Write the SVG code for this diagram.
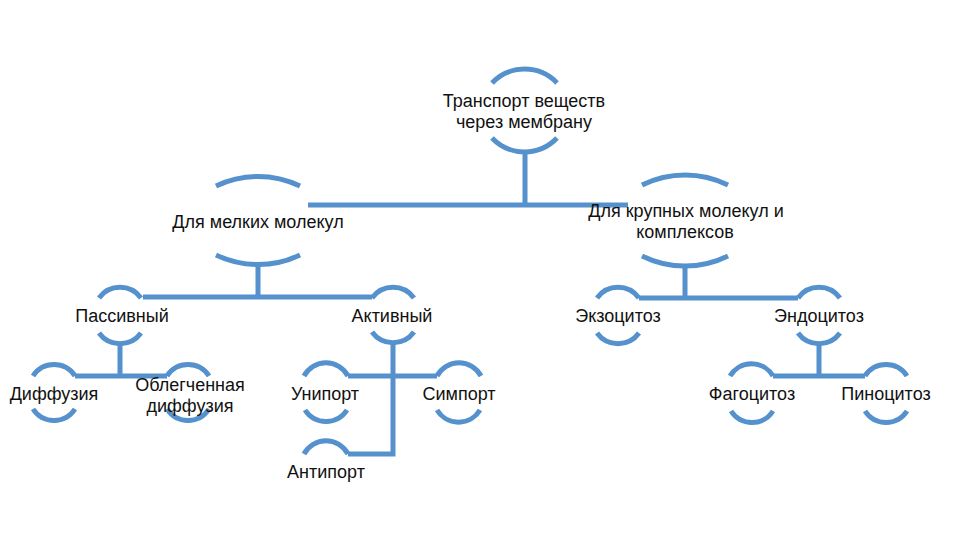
<svg xmlns="http://www.w3.org/2000/svg" width="960" height="540" viewBox="0 0 960 540">
<style>
.arc{fill:none;stroke:#5591cc;stroke-width:5;stroke-linecap:butt}
.con{fill:none;stroke:#5591cc;stroke-width:5;stroke-linejoin:miter}
text{font-family:"Liberation Sans",Arial,sans-serif;font-size:18px;fill:#111;text-anchor:middle}
</style>
<rect width="960" height="540" fill="#fff"/>
<g id="connectors">
<path class="con" d="M525,153 V205 M308,205 H628"/>
<path class="con" d="M258,265 V297 M143,297 H372"/>
<path class="con" d="M120,343 V376 M75,376 H167"/>
<path class="con" d="M393,342 V454 H348 M348,376 H437"/>
<path class="con" d="M685,266 V298 M639,298 H798"/>
<path class="con" d="M819,343 V376 M773,376 H865"/>
</g>
<g id="n-root">
<path class="arc" d="M492,83 A45,45 0 0,1 557,83"/>
<path class="arc" d="M492,138 A45,45 0 0,0 557,138"/>
<text x="524" y="107">Транспорт веществ</text>
<text x="524" y="128">через мембрану</text>
</g>
<g id="n-small">
<path class="arc" d="M216,186 A97,97 0 0,1 300,186"/>
<path class="arc" d="M216,255 A97,97 0 0,0 300,255"/>
<text x="258" y="228">Для мелких молекул</text>
</g>
<g id="n-large">
<path class="arc" d="M642,185 A97,97 0 0,1 728,185"/>
<path class="arc" d="M642,256 A97,97 0 0,0 728,256"/>
<text x="686" y="217">Для крупных молекул и</text>
<text x="685" y="238">комплексов</text>
</g>
<g id="n-passive">
<path class="arc" d="M99,298 A26,26 0 0,1 141,298"/>
<path class="arc" d="M99,333 A26,26 0 0,0 141,333"/>
<text x="122" y="322">Пассивный</text>
</g>
<g id="n-active">
<path class="arc" d="M372,298 A26,26 0 0,1 414,298"/>
<path class="arc" d="M372,332 A26,26 0 0,0 414,332"/>
<text x="392" y="322">Активный</text>
</g>
<g id="n-exo">
<path class="arc" d="M597,298 A26,26 0 0,1 639,298"/>
<path class="arc" d="M597,333 A26,26 0 0,0 639,333"/>
<text x="618" y="322">Экзоцитоз</text>
</g>
<g id="n-endo">
<path class="arc" d="M798,298 A26,26 0 0,1 840,298"/>
<path class="arc" d="M798,333 A26,26 0 0,0 840,333"/>
<text x="819" y="322">Эндоцитоз</text>
</g>
<g id="n-diff">
<path class="arc" d="M33,376 A25,25 0 0,1 75,376"/>
<path class="arc" d="M33,409 A25,25 0 0,0 75,409"/>
<text x="54" y="400">Диффузия</text>
</g>
<g id="n-facil">
<path class="arc" d="M167,376 A25,25 0 0,1 209,376"/>
<path class="arc" d="M167,409 A25,25 0 0,0 209,409"/>
<text x="190" y="391">Облегченная</text>
<text x="190" y="412">диффузия</text>
</g>
<g id="n-uni">
<path class="arc" d="M304,376 A25,25 0 0,1 348,376"/>
<path class="arc" d="M305,410 A25,25 0 0,0 347,410"/>
<text x="325" y="400">Унипорт</text>
</g>
<g id="n-sym">
<path class="arc" d="M437,376 A25,25 0 0,1 481,376"/>
<path class="arc" d="M437,410 A25,25 0 0,0 480,410"/>
<text x="459" y="400">Симпорт</text>
</g>
<g id="n-anti">
<path class="arc" d="M304,454 A25,25 0 0,1 348,454"/>
<text x="326" y="478">Антипорт</text>
</g>
<g id="n-phago">
<path class="arc" d="M730,376 A25,25 0 0,1 773,376"/>
<path class="arc" d="M731,411 A25,25 0 0,0 773,411"/>
<text x="752" y="400">Фагоцитоз</text>
</g>
<g id="n-pino">
<path class="arc" d="M865,376 A25,25 0 0,1 907,376"/>
<path class="arc" d="M865,411 A25,25 0 0,0 907,411"/>
<text x="886" y="400">Пиноцитоз</text>
</g>
</svg>
